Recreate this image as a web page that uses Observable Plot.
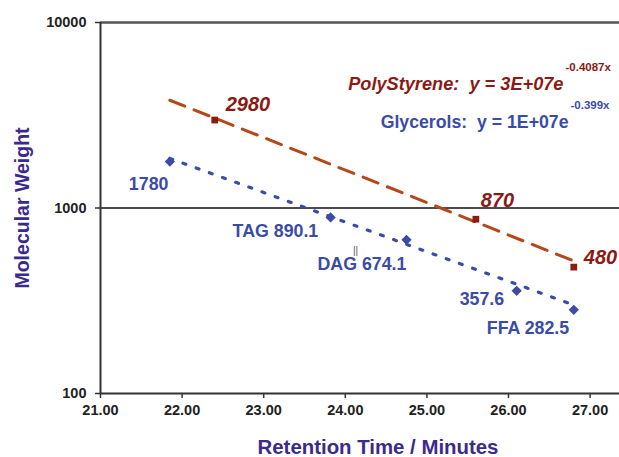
<!DOCTYPE html>
<html>
<head>
<meta charset="utf-8">
<script src="https://cdn.jsdelivr.net/npm/d3@7"></script>
<script src="https://cdn.jsdelivr.net/npm/@observablehq/plot@0.6"></script>
<style>
  html, body { margin: 0; padding: 0; background: #fff; }
  #chart { width: 619px; height: 457px; }
</style>
</head>
<body>
<div id="chart"></div>
<script>
// ---- data ----
const psTimes = [22.4, 25.6, 26.8];
const psWeights = [2980, 870, 480];
const psLabels = ["2980", "870", "480"];

const glyTimes = [21.85, 23.82, 24.75, 26.1, 26.8];
const glyWeights = [1780, 890.1, 674.1, 357.6, 282.5];
const glyLabels = ["1780", "TAG 890.1", "DAG 674.1", "357.6", "FFA 282.5"];

// trendline endpoints as drawn in the reference
const psTrendTimes = [21.85, 26.8];
const psTrendWeights = [3810, 518];
const glyTrendTimes = [21.85, 26.8];
const glyTrendWeights = [1850, 300];

const xTicks = [21, 22, 23, 24, 25, 26, 27];
const yTicks = [100, 1000, 10000];

const psEquation = "PolyStyrene:  y = 3E+07e";
const psExponent = "-0.4087x";
const glyEquation = "Glycerols:  y = 1E+07e";
const glyExponent = "-0.399x";

// ---- build tables ----
const ps = psTimes.map((t, i) => ({t, w: psWeights[i], label: psLabels[i]}));
const gly = glyTimes.map((t, i) => ({t, w: glyWeights[i], label: glyLabels[i]}));
const psTrend = psTrendTimes.map((t, i) => ({t, w: psTrendWeights[i]}));
const glyTrend = glyTrendTimes.map((t, i) => ({t, w: glyTrendWeights[i]}));

const RED_TEXT = "#8b1a14";
const RED_LINE = "#b5481a";
const RED_MARK = "#8c1c0c";
const BLUE = "#3a4ba8";
const TITLE = "#3b2a8e";
const FONT = "'Liberation Sans', Arial, Helvetica, sans-serif";

// label pixel offsets relative to each point
const psOff = [[11, -15], [5, -19], [10, -10]];
const glyOff = [[-41, 23], [-98, 14], [-89, 25], [-57, 8], [-87, 18]];

const plot = Plot.plot({
  width: 619,
  height: 457,
  marginLeft: 100,
  marginRight: 0,
  marginTop: 22,
  marginBottom: 64,
  style: {fontFamily: FONT, background: "#fff", overflow: "visible"},
  x: {domain: [21, 21 + 519 / 81.6], axis: null},
  y: {type: "log", domain: [100, 10000], axis: null},
  marks: [
    // gridlines
    Plot.ruleY([1000], {stroke: "#111", strokeWidth: 1.4}),
    Plot.ruleY([10000], {stroke: "#555", strokeWidth: 2.5}),
    // axes
    Plot.axisY({
      ticks: yTicks, tickFormat: d => String(d), tickSize: 5, tickPadding: 9,
      fontSize: 14.5, fontWeight: "bold", fill: "#222", stroke: "#333", strokeWidth: 1.5, label: null
    }),
    Plot.axisX({
      ticks: xTicks, tickFormat: d3.format(".2f"), tickSize: 5, tickPadding: 6,
      fontSize: 14.5, fontWeight: "bold", fill: "#222", stroke: "#333", strokeWidth: 1.5, label: null
    }),
    Plot.ruleX([21], {stroke: "#333", strokeWidth: 2}),
    Plot.ruleY([100], {stroke: "#333", strokeWidth: 2}),
    // trend lines
    Plot.line(psTrend, {x: "t", y: "w", stroke: RED_LINE, strokeWidth: 3, strokeDasharray: "16,10"}),
    Plot.line(glyTrend, {x: "t", y: "w", stroke: BLUE, strokeWidth: 3.2, strokeDasharray: "3,11"}),
    // markers
    Plot.dot(ps, {x: "t", y: "w", symbol: "square", r: 3.8, fill: RED_MARK, stroke: null}),
    Plot.dot(gly, {x: "t", y: "w", symbol: "square", r: 4.1, rotate: 45, fill: BLUE, stroke: null}),
    // point labels
    ...ps.map((d, i) => Plot.text([d], {
      x: "t", y: "w", text: "label", dx: psOff[i][0], dy: psOff[i][1], textAnchor: "start",
      fontSize: 20, fontWeight: "bold", fontStyle: "italic", fill: RED_TEXT
    })),
    ...gly.map((d, i) => Plot.text([d], {
      x: "t", y: "w", text: "label", dx: glyOff[i][0], dy: glyOff[i][1], textAnchor: "start",
      fontSize: 17.8, fontWeight: "bold", fill: BLUE
    })),
    Plot.text(["||"], {frameAnchor: "top-left", dx: 255, dy: 224, fontSize: 10, fill: "#555", textAnchor: "middle"}),
    // equations
    Plot.text([psEquation], {frameAnchor: "top-left", dx: 463, dy: 55, textAnchor: "end",
      fontSize: 18.2, fontWeight: "bold", fontStyle: "italic", fill: RED_TEXT}),
    Plot.text([psExponent], {frameAnchor: "top-left", dx: 465, dy: 40, textAnchor: "start",
      fontSize: 11.5, fontWeight: "bold", fill: RED_TEXT}),
    Plot.text([glyEquation], {frameAnchor: "top-left", dx: 468, dy: 93, textAnchor: "end",
      fontSize: 17.7, fontWeight: "bold", fill: BLUE}),
    Plot.text([glyExponent], {frameAnchor: "top-left", dx: 470, dy: 78, textAnchor: "start",
      fontSize: 11.5, fontWeight: "bold", fill: BLUE}),
    // axis titles
    Plot.text(["Molecular Weight"], {frameAnchor: "left", dx: -78, rotate: -90, textAnchor: "middle",
      fontSize: 19.5, fontWeight: "bold", fill: TITLE}),
    Plot.text(["Retention Time / Minutes"], {frameAnchor: "bottom", dx: 18, dy: 60, textAnchor: "middle",
      fontSize: 20.4, fontWeight: "bold", fill: TITLE})
  ]
});
document.getElementById("chart").appendChild(plot);
</script>
</body>
</html>
